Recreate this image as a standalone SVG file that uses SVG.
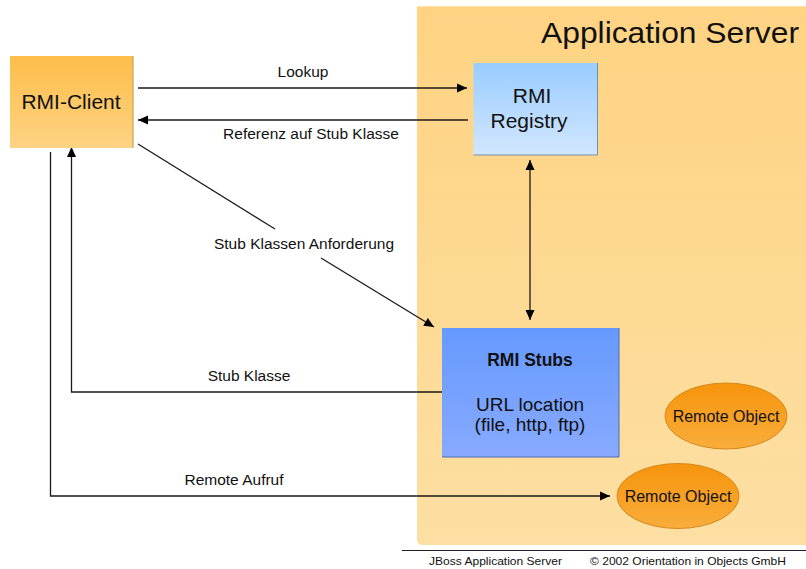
<svg xmlns="http://www.w3.org/2000/svg" width="806" height="569" viewBox="0 0 806 569">
  <style>
    text { font-family: "Liberation Sans", Arial, sans-serif; fill: #111; }
    .lbl { font-size: 15.5px; text-anchor: middle; }
    .box { font-size: 21px; text-anchor: middle; }
    .obj { font-size: 16px; text-anchor: middle; }
    .foot { font-size: 11.5px; }
    .conn { fill: none; stroke: #1a1a1a; stroke-width: 1.3; }
  </style>
  <defs>
    <linearGradient id="gServer" x1="0" y1="0" x2="0" y2="1">
      <stop offset="0" stop-color="#FFD382"/>
      <stop offset="1" stop-color="#FDDFA3"/>
    </linearGradient>
    <linearGradient id="gClient" x1="0" y1="0" x2="0" y2="1">
      <stop offset="0" stop-color="#FDBE4A"/>
      <stop offset="1" stop-color="#FDD383"/>
    </linearGradient>
    <linearGradient id="gRegistry" x1="0" y1="0" x2="0" y2="1">
      <stop offset="0" stop-color="#99CCFF"/>
      <stop offset="1" stop-color="#D2E7FF"/>
    </linearGradient>
    <linearGradient id="gStubs" x1="0" y1="0" x2="0" y2="1">
      <stop offset="0" stop-color="#6699FF"/>
      <stop offset="1" stop-color="#88AAFF"/>
    </linearGradient>
    <linearGradient id="gObj" x1="0" y1="0" x2="0" y2="1">
      <stop offset="0" stop-color="#F6940C"/>
      <stop offset="1" stop-color="#F9AD3C"/>
    </linearGradient>
    <marker id="arrow" viewBox="0 0 10 10" refX="10" refY="5" markerWidth="10" markerHeight="10" markerUnits="userSpaceOnUse" orient="auto-start-reverse">
      <path d="M0,0.5 L10,5 L0,9.5 Z" fill="#000"/>
    </marker>
  </defs>

  <!-- application server area -->
  <g id="application-server">
    <path d="M417,6 H806 V545 H423 Q417,545 417,539 Z" fill="url(#gServer)"/>
    <line x1="417" y1="6.5" x2="806" y2="6.5" stroke="#FFE3A8" stroke-width="1.2"/>
    <text x="541" y="43" font-size="30" textLength="258" lengthAdjust="spacingAndGlyphs">Application Server</text>
  </g>

  <!-- connectors -->
  <g id="connectors">
    <!-- Lookup -->
    <line class="conn" x1="138" y1="88" x2="467" y2="88" marker-end="url(#arrow)"/>
    <text class="lbl" x="303" y="77">Lookup</text>
    <!-- Referenz -->
    <line class="conn" x1="468" y1="120" x2="138" y2="120" marker-end="url(#arrow)"/>
    <text class="lbl" x="311" y="139">Referenz auf Stub Klasse</text>
    <!-- Stub class request -->
    <line class="conn" x1="138" y1="144" x2="275" y2="229"/>
    <line class="conn" x1="321" y1="258" x2="434" y2="327" marker-end="url(#arrow)"/>
    <text class="lbl" x="304" y="249">Stub Klassen Anforderung</text>
    <!-- registry <-> stubs -->
    <line class="conn" x1="530" y1="160" x2="530" y2="320" marker-start="url(#arrow)" marker-end="url(#arrow)"/>
    <!-- Stub Klasse -->
    <polyline class="conn" points="442,392 71.5,392 71.5,147" marker-end="url(#arrow)"/>
    <text class="lbl" x="249" y="381">Stub Klasse</text>
    <!-- Remote Aufruf -->
    <polyline class="conn" points="50.5,152 50.5,496 610,496" marker-end="url(#arrow)"/>
    <text class="lbl" x="234" y="485">Remote Aufruf</text>
  </g>

  <!-- RMI client -->
  <g id="rmi-client">
    <rect x="10" y="56" width="123" height="92" fill="url(#gClient)"/>
    <line x1="133" y1="56" x2="133" y2="148" stroke="#C8963A" stroke-width="1"/>
    <text class="box" x="71" y="109">RMI-Client</text>
  </g>

  <!-- RMI registry -->
  <g id="rmi-registry">
    <rect x="473.5" y="63" width="124" height="92" fill="url(#gRegistry)"/>
    <polyline points="597.5,63 597.5,155 473.5,155" fill="none" stroke="#6F8FB4" stroke-width="1"/>
    <text class="box" x="532" y="103">RMI</text>
    <text class="box" x="529" y="128">Registry</text>
  </g>

  <!-- RMI stubs -->
  <g id="rmi-stubs">
    <rect x="442" y="328" width="177" height="129" fill="url(#gStubs)"/>
    <polyline points="619,328 619,457 442,457" fill="none" stroke="#4A6CB4" stroke-width="1"/>
    <text x="530" y="366" font-size="17.5" font-weight="bold" text-anchor="middle">RMI Stubs</text>
    <text x="530" y="411" font-size="19" text-anchor="middle">URL location</text>
    <text x="530" y="431" font-size="19" text-anchor="middle">(file, http, ftp)</text>
  </g>

  <!-- remote objects -->
  <g id="remote-object-1">
    <ellipse cx="726" cy="416" rx="61" ry="33" fill="url(#gObj)" stroke="#D8861A" stroke-width="1"/>
    <text class="obj" x="726" y="422">Remote Object</text>
  </g>
  <g id="remote-object-2">
    <ellipse cx="678" cy="496" rx="61" ry="32.5" fill="url(#gObj)" stroke="#D8861A" stroke-width="1"/>
    <text class="obj" x="678" y="502">Remote Object</text>
  </g>

  <!-- footer -->
  <g id="footer">
    <line x1="402" y1="550.5" x2="806" y2="550.5" stroke="#222" stroke-width="1"/>
    <text class="foot" x="429" y="565" textLength="133" lengthAdjust="spacingAndGlyphs">JBoss Application Server</text>
    <text class="foot" x="590" y="565" textLength="196" lengthAdjust="spacingAndGlyphs">© 2002 Orientation in Objects GmbH</text>
  </g>
</svg>
